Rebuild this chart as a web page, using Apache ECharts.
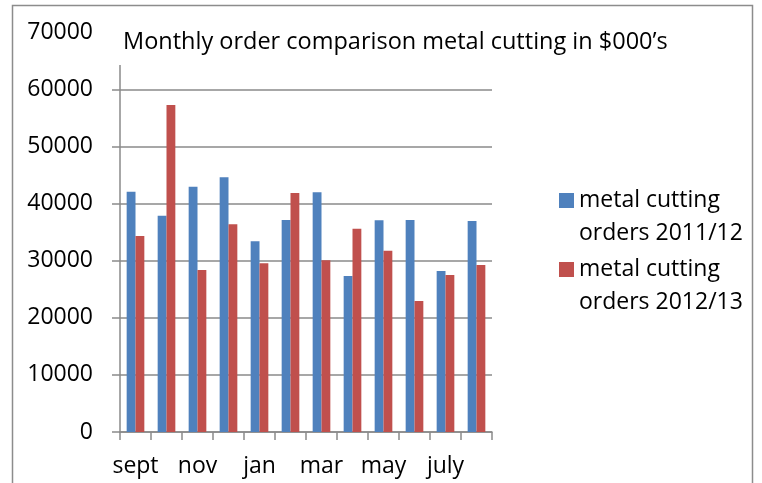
<!DOCTYPE html>
<html>
<head>
<meta charset="utf-8">
<script src="https://cdn.jsdelivr.net/npm/echarts@6/dist/echarts.min.js"></script>
<style>
html,body{margin:0;padding:0;background:#fff;}
#chart{width:762px;height:483px;}
</style>
</head>
<body>
<div id="chart"></div>
<script>
const categories = ['sept','oct','nov','dec','jan','feb','mar','apr','may','june','july','aug'];
const orders201112 = [42080, 37880, 42960, 44600, 33390, 37130, 41970, 27320, 37070, 37130, 28200, 36950];
const orders201213 = [34330, 57270, 28370, 36370, 29540, 41860, 30060, 35610, 31750, 22940, 27500, 29250];
const seriesNames = ['metal cutting orders 2011/12', 'metal cutting orders 2012/13'];
const titleText = 'Monthly order comparison metal cutting in $000\u2019s';

const font = '"Open Sans", sans-serif';
const gridColor = '#8a8a8a';
const chart = echarts.init(document.getElementById('chart'));
chart.setOption({
  animation: false,
  textStyle: { fontFamily: font, color: '#000' },
  title: {
    text: titleText,
    left: 105, top: 15,
    padding: [14, 10, 10, 18],
    backgroundColor: '#fff',
    textStyle: { fontFamily: font, fontSize: 23.5, fontWeight: 'normal', color: '#000', lineHeight: 26 }
  },
  legend: {
    orient: 'vertical',
    left: 559, top: 151,
    padding: 0,
    itemWidth: 15, itemHeight: 15,
    itemGap: -30,
    icon: 'rect',
    formatter: n => '\n' + n.replace(' orders', '\norders'),
    textStyle: { fontFamily: font, fontSize: 23, color: '#000', lineHeight: 33 },
    data: seriesNames
  },
  grid: { left: 120, right: 270, top: 32.3, bottom: 51 },
  xAxis: {
    type: 'category',
    data: categories,
    axisLine: { lineStyle: { color: gridColor, width: 1.5 } },
    axisTick: { show: true, interval: 0, length: 8, lineStyle: { color: gridColor, width: 1.5 } },
    axisLabel: { interval: 1, margin: 23, fontFamily: font, fontSize: 23, color: '#000' }
  },
  yAxis: {
    type: 'value',
    min: 0, max: 70000, interval: 10000,
    axisLine: { show: true, lineStyle: { color: gridColor, width: 1.5 } },
    axisTick: { show: true, length: 8, lineStyle: { color: gridColor, width: 1.5 } },
    splitLine: { lineStyle: { color: gridColor, width: 1.5 } },
    axisLabel: { margin: 27, fontFamily: font, fontSize: 23, color: '#000', formatter: v => String(v) }
  },
  series: [
    { name: seriesNames[0], type: 'bar', data: orders201112, barGap: '0%', barCategoryGap: '43%', itemStyle: { color: '#4F81BD' } },
    { name: seriesNames[1], type: 'bar', data: orders201213, barGap: '0%', barCategoryGap: '43%', itemStyle: { color: '#C0504D' } }
  ],
  graphic: [
    { type: 'rect', left: 10, top: 3, silent: true, z: -10,
      shape: { width: 740, height: 490 },
      style: { fill: 'none', stroke: '#8c8c8c', lineWidth: 1.5 } }
  ]
});
</script>
</body>
</html>
